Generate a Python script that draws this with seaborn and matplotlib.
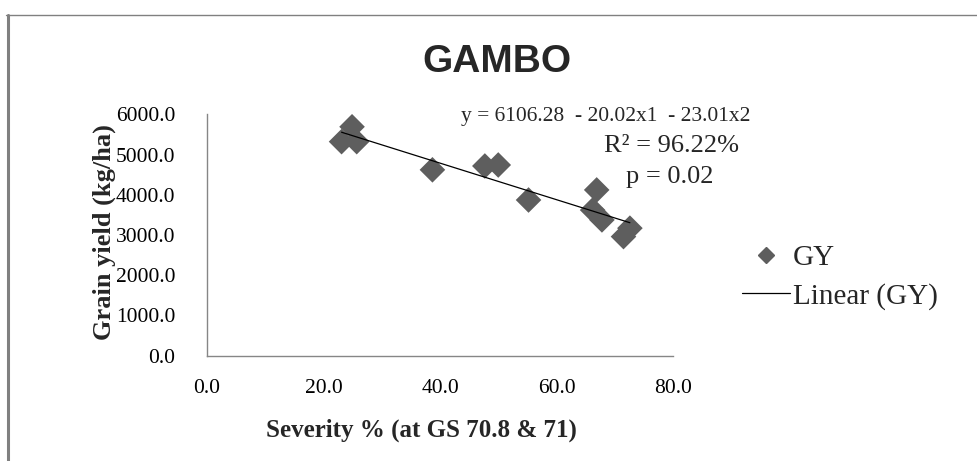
import numpy as np
import pandas as pd
import matplotlib
matplotlib.use("Agg")
import matplotlib.pyplot as plt
from matplotlib.lines import Line2D
from matplotlib.ticker import FormatStrFormatter
import seaborn as sns

# values
severity = [24.9, 23.1, 25.7, 38.7, 47.7, 50.0, 55.2, 66.9, 66.2, 67.8, 72.6, 71.5]
grain_yield = [5690, 5320, 5320, 4620, 4715, 4740, 3870, 4120, 3620, 3375, 3170, 2960]
x_ticks = [0, 20, 40, 60, 80]
y_ticks = [0, 1000, 2000, 3000, 4000, 5000, 6000]

df = pd.DataFrame({"Severity": severity, "GY": grain_yield})

sns.set_theme(style="white")
plt.rcParams["font.family"] = ["Liberation Serif", "DejaVu Serif"]

W, H = 977, 461
fig = plt.figure(figsize=(W / 100, H / 100), dpi=100)
ax = fig.add_axes([207 / W, 1 - 355.7 / H, (673 - 207) / W, (355.7 - 114.3) / H])

grey = "#868686"
sns.regplot(data=df, x="Severity", y="GY", ax=ax, ci=None, marker="D",
            scatter_kws={"s": 170, "color": "#5e5e5e", "edgecolors": "none",
                         "alpha": 1},
            line_kws={"color": "black", "lw": 0.9})

ax.set_xlim(0, 80)
ax.set_ylim(0, 6000)
ax.set_xticks(x_ticks)
ax.set_yticks(y_ticks)
ax.xaxis.set_major_formatter(FormatStrFormatter("%.1f"))
ax.yaxis.set_major_formatter(FormatStrFormatter("%.1f"))
for s in ["top", "right"]:
    ax.spines[s].set_visible(False)
for s in ["left", "bottom"]:
    ax.spines[s].set_color(grey)
    ax.spines[s].set_linewidth(1)
ax.tick_params(axis="both", direction="out", length=8, width=1, color=grey,
               labelsize=15.5, labelcolor="black")
ax.tick_params(axis="y", pad=15)
ax.tick_params(axis="x", pad=9)
ax.set_xlabel("Severity % (at GS 70.8 & 71)", fontsize=18, fontweight="bold")
ax.set_ylabel("Grain yield (kg/ha)", fontsize=19, fontweight="bold")
# label positions in axes fraction
ax.xaxis.set_label_coords((421 - 207) / (673 - 207), -(430 - 355.7) / (355.7 - 114.3))
ax.yaxis.set_label_coords(-(207 - 104) / (673 - 207), (355.7 - 232) / (355.7 - 114.3))
ax.xaxis.label.set_va("center")
ax.yaxis.label.set_va("center")

fig.text(497 / W, 1 - 62 / H, "GAMBO", ha="center", va="center",
         fontsize=28, fontweight="bold",
         family=["Liberation Sans Narrow", "Liberation Sans", "DejaVu Sans"])

fig.text(606 / W, 1 - 116 / H, "y = 6106.28  - 20.02x1  - 23.01x2",
         ha="center", va="center", fontsize=15.5)
fig.text(672 / W, 1 - 146 / H, "R² = 96.22%", ha="center", va="center",
         fontsize=19)
fig.text(670 / W, 1 - 177 / H, "p = 0.02", ha="center", va="center",
         fontsize=19)

handles = [
    Line2D([], [], marker="D", color="#5e5e5e", ls="none", markersize=8),
    Line2D([], [], color="black", lw=0.9),
]
fig.legend(handles, ["GY", "Linear (GY)"], loc="center left",
           bbox_to_anchor=(742 / W, 1 - 277 / H), frameon=False,
           fontsize=21, handlelength=1.65, handletextpad=0.1,
           labelspacing=0.4, borderaxespad=0, borderpad=0)

# chart area frame (cropped at right and bottom)
fig.add_artist(Line2D([7.5 / W, 7.5 / W], [0, 1 - 15 / H],
                      color="#808080", lw=2.2, transform=fig.transFigure))
fig.add_artist(Line2D([6 / W, 1], [1 - 15.5 / H, 1 - 15.5 / H],
                      color="#808080", lw=1, transform=fig.transFigure))

fig.savefig("out.png", dpi=100, facecolor="white")
